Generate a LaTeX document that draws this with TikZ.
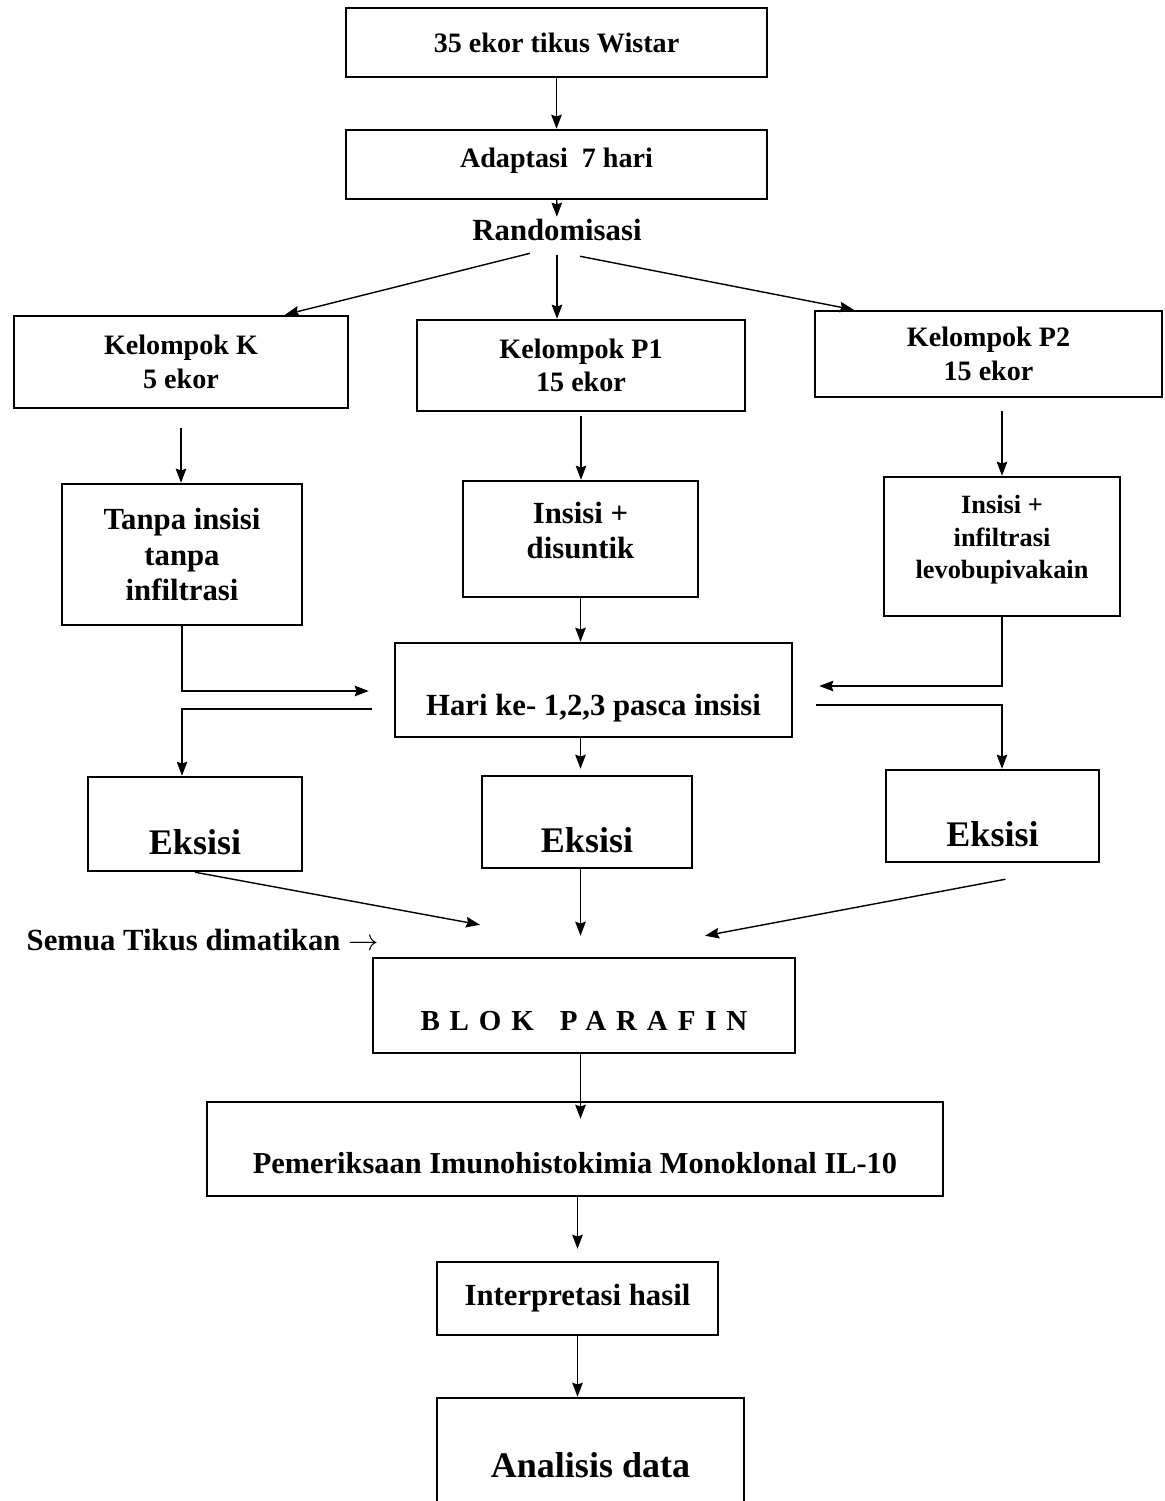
\documentclass[tikz,border=0pt]{standalone}
\usepackage{fontspec}
\setmainfont{Liberation Serif}
\usetikzlibrary{positioning,arrows.meta,calc}
\tikzset{
  flow/.style={>={Stealth[length=8pt,width=6pt,inset=1pt]},
    line width=0.8pt},
  box/.style={draw,line width=1.4pt,align=center,inner sep=2pt},
  boxsize/.style 2 args={minimum width=#1*0.02cm,minimum height=#2*0.02cm},
  texth/.style={text height=#1},
  textd/.style={text depth=#1},
  txt/.style={font=\bfseries\fontsize{16}{19}\selectfont},
  txtsmall/.style={font=\bfseries\fontsize{15}{18.5}\selectfont},
  txtbig/.style={font=\bfseries\fontsize{17.5}{20}\selectfont},
  txteks/.style={font=\bfseries\fontsize{20.5}{24}\selectfont},
  spaced/.style={font=\bfseries\fontsize{16.5}{19}\selectfont\addfontfeature{LetterSpace=34}}
}

\begin{document}
\begin{tikzpicture}[x=0.02cm,y=-0.02cm,flow]
  \useasboundingbox (0,0) rectangle (1165,1501);
  % top of the flow
  \node[box,txt,boxsize={421}{69}] (wistar) at (556.5,42.5) {35 ekor tikus Wistar};
  \node[box,txt,boxsize={421}{69},texth=7pt] (adapt) at (556.5,164.5) {Adaptasi~ 7 hari};
  \node[txtbig,inner sep=1pt] (rand) at (557,230) {Randomisasi};
  % groups
  \node[box,txt,boxsize={334}{92}] (kelK) at (181,362) {Kelompok K\\5 ekor};
  \node[box,txt,boxsize={328}{91}] (kelP1) at (581,365.5) {Kelompok P1\\15 ekor};
  \node[box,txt,boxsize={347}{86}] (kelP2) at (988.5,354) {Kelompok P2\\15 ekor};
  \node[box,txtbig,boxsize={240}{141}] (trtK) at (182,554.5) {Tanpa insisi\\tanpa\\infiltrasi};
  \node[box,txtbig,boxsize={235}{116},textd=9.6pt] (trtP1) at (580.5,539) {Insisi +\\disuntik};
  \node[box,txtsmall,boxsize={236}{139},textd=10.7pt] (trtP2) at (1002,546.5) {Insisi +\\infiltrasi\\levobupivakain};
  \node[box,txtbig,boxsize={397}{94},texth=32.4pt] (hari) at (593.5,690) {Hari ke- 1,2,3 pasca insisi};
  \node[box,txteks,boxsize={214}{94},texth=35pt] (eksK) at (195,824) {Eksisi};
  \node[box,txteks,boxsize={210}{92},texth=35pt] (eksP1) at (587,822) {Eksisi};
  \node[box,txteks,boxsize={213}{92},texth=35pt] (eksP2) at (992.5,816) {Eksisi};
  % after excision
  \node[txtbig,anchor=west,inner sep=0pt] (semua) at (26,940) {Semua Tikus dimatikan $\rightarrow$};
  \node[box,spaced,boxsize={422}{95},texth=28.7pt] (blok) at (584,1005.5) {BLOK\hspace{0.9em}PARAFIN};
  \node[box,font=\bfseries\fontsize{17.3}{20}\selectfont,boxsize={736}{94},texth=27.6pt] (pem) at (575,1149) {Pemeriksaan Imunohistokimia Monoklonal IL-10};
  \node[box,txtbig,boxsize={281}{73}] (interp) at (577.5,1298.5) {Interpretasi hasil};
  \node[box,txteks,boxsize={307}{114},texth=26pt] (ana) at (590.5,1455) {Analisis data};

  \draw[->] (wistar) -- (adapt);
  \draw[->] (adapt) -- (rand);
  \draw[->] ($(rand.south)+(-27,10)$) -- ($(kelK.north)+(104,0)$);
  \draw[->] ($(rand.south)+(0,12)$) -- (rand.south |- kelP1.north);
  \draw[->] ($(rand.south)+(23,13)$) -- ($(kelP2.north west)+(40,0)$);
  \draw[->] ($(kelK.south)+(0,19)$) -- (kelK.south |- trtK.north);
  \draw[->] ($(kelP1.south)+(0,4)$) -- (kelP1.south |- trtP1.north);
  \draw[->] ($(trtP2.north |- kelP2.south)+(0,13)$) -- (trtP2.north);
  \draw[->] (trtP1) -- (trtP1 |- hari.north);
  \draw[->] (trtK.south) |- ($(hari.west)+(-25,1)$);
  \draw[->] (trtP2.south) |- ($(hari.east)+(26,-4)$);
  \draw[->] ($(hari.west)+(-22,19)$) -| (trtK.south |- eksK.north);
  \draw[->] (trtP1.south |- hari.south) -- ($(trtP1.south |- eksP1.north)+(0,-6)$);
  \draw[->] ($(hari.east)+(23,15)$) -| (trtP2.south |- eksP2.north);
  \draw[->] (eksK.south) -- ($(blok.north)+(-104,-32)$);
  \draw[->] (eksP1.south -| trtP1.south) -- ($(blok.north -| trtP1.south)+(0,-21)$);
  \draw[->] ($(eksP2.south)+(13,16)$) -- ($(blok.north)+(121,-21)$);
  \draw[->] (blok.south -| trtP1.south) -- ($(pem.north -| trtP1.south)+(0,18)$);
  \draw[->] (pem.south -| interp.north) -- ($(interp.north)+(0,-12)$);
  \draw[->] (interp) -- (interp.south |- ana.north);
\end{tikzpicture}
\end{document}
